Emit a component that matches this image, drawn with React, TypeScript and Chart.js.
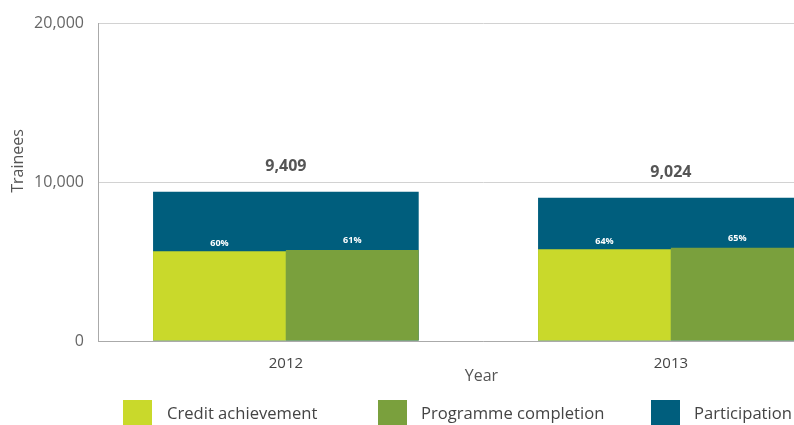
import React, { useEffect, useRef } from "react";
import { Chart, registerables } from "chart.js";

Chart.register(...registerables);

const years = ["2012", "2013"];
const participation = [9409, 9024];
const creditAchievement = [5650, 5780];
const programmeCompletion = [5740, 5870];
const creditPct = ["60%", "64%"];
const completionPct = ["61%", "65%"];
const yTicks = [0, 10000, 20000];

const COL_CREDIT = "#c9d92b";
const COL_PROG = "#7aa03d";
const COL_PART = "#005e7d";
const FONT = "'Open Sans', 'DejaVu Sans', sans-serif";

const toXY = (arr: number[]) => arr.map((v, i) => ({ x: i, y: v }));

const labelPlugin = {
  id: "labels",
  afterDatasetsDraw(chart: any) {
    const ctx = chart.ctx;
    const y = chart.scales.y;
    ctx.save();
    ctx.fillStyle = "#555";
    ctx.font = "bold 16px " + FONT;
    ctx.textAlign = "center";
    ctx.textBaseline = "middle";
    const mp = chart.getDatasetMeta(2);
    participation.forEach((v, i) => {
      const el = mp.data[i];
      ctx.fillText(v.toLocaleString("en-US"), el.x, y.getPixelForValue(v) - 25);
    });
    ctx.fillStyle = "#ffffff";
    ctx.font = "bold 9px " + FONT;
    const m0 = chart.getDatasetMeta(0);
    const m1 = chart.getDatasetMeta(1);
    creditPct.forEach((t, i) => {
      const el = m0.data[i];
      ctx.fillText(t, el.x, el.y - 8);
    });
    completionPct.forEach((t, i) => {
      const el = m1.data[i];
      ctx.fillText(t, el.x, el.y - 9);
    });
    const xs = chart.scales.x;
    ctx.fillStyle = "#555";
    ctx.font = "16px " + FONT;
    ctx.fillText("Year", (xs.getPixelForValue(0) + xs.getPixelForValue(1)) / 2 + 3, 376);
    ctx.translate(18, 161);
    ctx.rotate(-Math.PI / 2);
    ctx.fillText("Trainees", 0, 0);
    ctx.restore();
  },
};

export default function App() {
  const ref = useRef<HTMLCanvasElement>(null);
  useEffect(() => {
    if (!ref.current) return;
    const chart = new Chart(ref.current, {
      type: "bar",
      data: {
        datasets: [
          {
            label: "Credit achievement",
            data: toXY(creditAchievement),
            backgroundColor: COL_CREDIT,
            order: 1,
            categoryPercentage: 0.69,
            barPercentage: 1,
          },
          {
            label: "Programme completion",
            data: toXY(programmeCompletion),
            backgroundColor: COL_PROG,
            order: 1,
            categoryPercentage: 0.69,
            barPercentage: 1,
          },
          {
            label: "Participation",
            data: toXY(participation),
            backgroundColor: COL_PART,
            order: 2,
            grouped: false,
            categoryPercentage: 0.69,
            barPercentage: 1,
          },
        ],
      },
      options: {
        responsive: false,
        animation: false,
        devicePixelRatio: 1,
        layout: { padding: { top: 21, left: 0, right: 0, bottom: 0 } },
        plugins: { legend: { display: false }, tooltip: { enabled: false } },
        scales: {
          x: {
            type: "linear",
            min: -0.488,
            max: 1.512,
            offset: false,
            afterBuildTicks: (s: any) => {
              s.ticks = years.map((_, i) => ({ value: i }));
            },
            grid: { display: false },
            border: { display: true, color: "#aaaaaa" },
            ticks: {
              color: "#444",
              font: { size: 15, family: FONT },
              padding: 6,
              maxRotation: 0,
              callback: (v: any) => years[Math.round(Number(v))] ?? "",
            },
            afterFit: (s: any) => {
              s.height = 84;
            },
          },
          y: {
            min: 0,
            max: 20000,
            afterBuildTicks: (s: any) => {
              s.ticks = yTicks.map((v) => ({ value: v }));
            },
            grid: { color: "#d2d2d2", drawTicks: false },
            border: { display: true, color: "#aaaaaa" },
            ticks: {
              color: "#666",
              font: { size: 16, family: FONT },
              padding: 14,
              callback: (v: any) => Number(v).toLocaleString("en-US"),
            },
            afterFit: (s: any) => {
              s.width = 98;
            },
          },
        },
      },
      plugins: [labelPlugin],
    } as any);
    return () => chart.destroy();
  }, []);

  const legend = [
    { label: "Credit achievement", color: COL_CREDIT, sq: 123, tx: 167 },
    { label: "Programme completion", color: COL_PROG, sq: 378, tx: 421 },
    { label: "Participation", color: COL_PART, sq: 651, tx: 694 },
  ];

  return (
    <div
      style={{
        position: "fixed",
        left: 0,
        top: 0,
        width: 794,
        height: 425,
        overflow: "hidden",
        background: "#fff",
      }}
    >
      <div style={{ position: "absolute", left: 0, top: 0, width: 868, height: 425 }}>
        <canvas ref={ref} width={868} height={425} style={{ width: 868, height: 425, display: "block" }} />
      </div>
      {legend.map((l) => (
        <React.Fragment key={l.label}>
          <div
            style={{
              position: "absolute",
              left: l.sq,
              top: 400,
              width: 29,
              height: 25,
              background: l.color,
            }}
          />
          <div
            style={{
              position: "absolute",
              left: l.tx,
              top: 401,
              fontFamily: FONT,
              fontSize: 16.6,
              lineHeight: "23px",
              color: "#444",
              whiteSpace: "nowrap",
            }}
          >
            {l.label}
          </div>
        </React.Fragment>
      ))}
    </div>
  );
}
